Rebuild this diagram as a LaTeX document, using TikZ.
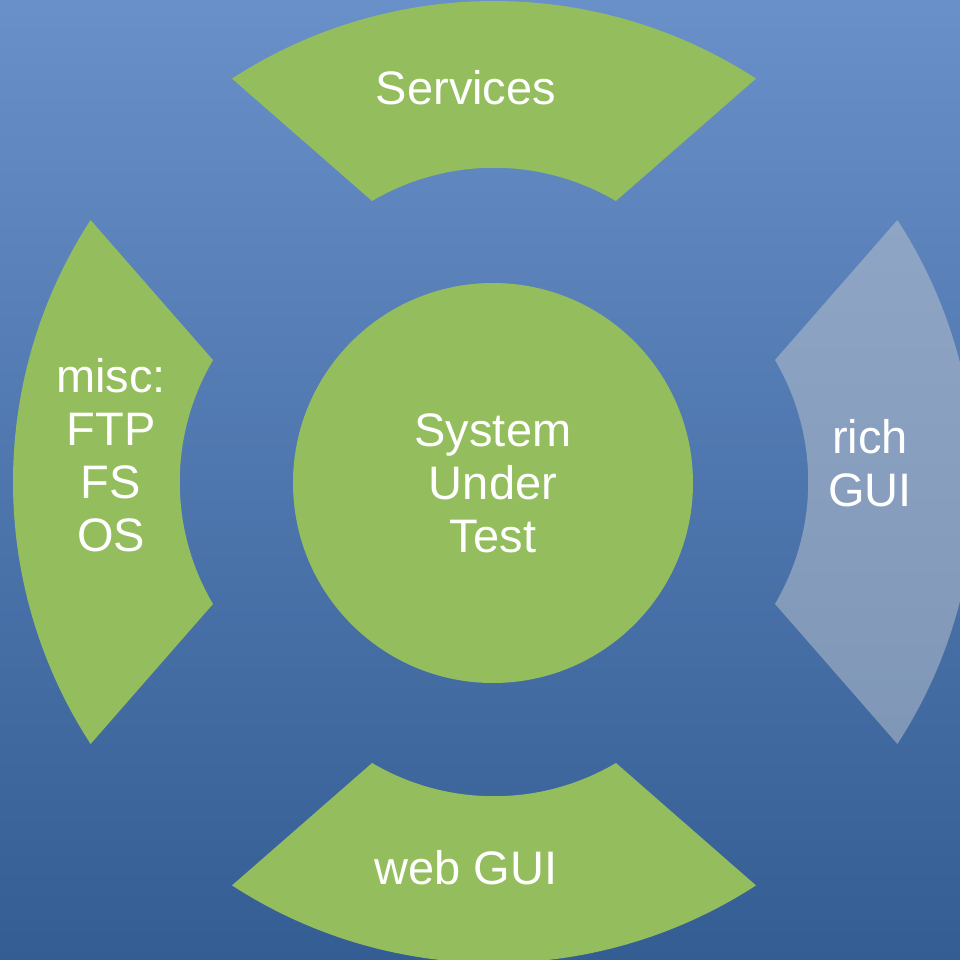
\documentclass[tikz,border=0pt]{standalone}
\usepackage{fontspec}
\setmainfont{Liberation Sans}
\usepackage{xcolor}
\usepackage{tikz}
\usetikzlibrary{positioning}
\definecolor{bgtop}{RGB}{105,144,200}
\definecolor{bgbottom}{RGB}{52,93,148}
\definecolor{leaf}{RGB}{148,189,94}
\definecolor{mist}{RGB}{192,198,206}
\tikzset{
	segment/.style={fill=leaf},
	faded/.style={fill=mist, fill opacity=0.5},
	hub/.style={circle, fill=leaf, minimum size=200pt, inner sep=0pt},
	caption/.style={text=white, align=center, inner sep=0pt, font=\fontsize{23.5pt}{26.5pt}\selectfont}
}
% #1 style, #2 direction of the segment
\newcommand{\ringsegment}[2]{
	\begin{scope}[rotate={#2-90}]
		\fill[#1] (57:481) arc[start angle=57, end angle=123, radius=481]
			-- (-122,281) arc[start angle=120.5, end angle=59.5, radius=240.3] -- cycle;
	\end{scope}
}

\begin{document}
\begin{tikzpicture}[x=0.5pt, y=0.5pt]
	\useasboundingbox (-494,-478) rectangle (466,482);
	\clip (-494,-478) rectangle (466,482);
	\shade[top color=bgtop, bottom color=bgbottom] (-494,-478) rectangle (466,482);

	\ringsegment{segment}{90};
	\ringsegment{segment}{180};
	\ringsegment{segment}{270};
	\ringsegment{faded}{0};

	\node[hub, caption] (sut) at (-1,-1) {System\\Under\\Test};

	\node[caption] (services) at (-28,394) {Services};
	\node[caption] (web-gui) at (-28,-386) {web GUI};
	\node[caption] (misc) at (-383,27) {misc:\\FTP\\FS\\OS};
	\node[caption] (rich-gui) at (376,19) {rich\\GUI};
\end{tikzpicture}
\end{document}
